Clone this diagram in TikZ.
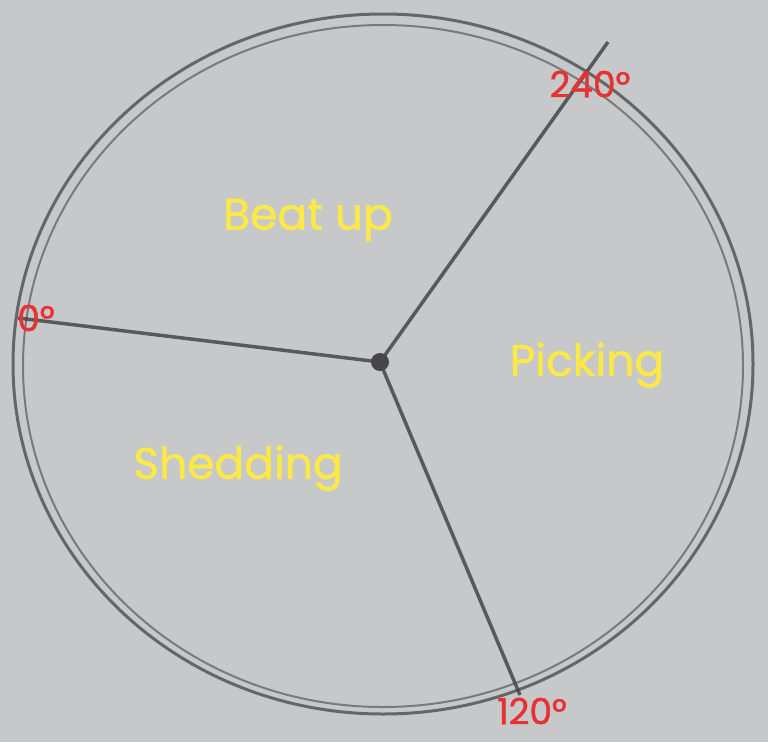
\documentclass[tikz,border=0pt]{standalone}
\usepackage{fontspec}
\setmainfont{Poppins}
\newfontfamily\labelfont[FakeBold=1.2]{Poppins}
\definecolor{paper}{RGB}{198,200,202}
\definecolor{pencil}{RGB}{70,70,72}
\definecolor{lblred}{RGB}{232,50,50}
\definecolor{lblyel}{RGB}{252,232,70}
\begin{document}
\begin{tikzpicture}[x=1pt,y=-1pt,
  stroke/.style={draw=pencil,line width=3.5pt,opacity=0.85},
  rim/.style={draw=pencil,line width=3pt,opacity=0.75},
  deg/.style={text=lblred,font=\labelfont\fontsize{36}{36}\selectfont,inner sep=0pt},
  phase/.style={text=lblyel,font=\labelfont\fontsize{44}{44}\selectfont,inner sep=0pt}]
\fill[paper] (0,0) rectangle (768,742);
\useasboundingbox (0,0) rectangle (768,742);
% rim (double pencil line)
\draw[rim] (383,364) ellipse [x radius=370, y radius=350];
\draw[rim,line width=2pt,opacity=0.6] (383,366) ellipse [x radius=360, y radius=341];
% hub and spokes
\coordinate (c) at (380,362);
\coordinate (p0) at (18,318);
\coordinate (p240) at (608,42);
\coordinate (p120) at (520,695);
\draw[stroke] (c) -- (p0);
\draw[stroke] (c) -- (p240);
\draw[stroke] (c) -- (p120);
\fill[pencil] (c) circle (9);
% labels
\node[deg] (l0) at (36,318) {0°};
\node[deg] (l240) at (590,84) {240°};
\node[deg] (l120) at (532,711) {120°};
\node[phase] (beat) at (308,220) {Beat up};
\node[phase] (pick) at (587,365) {Picking};
\node[phase] (shed) at (238,468) {Shedding};
\end{tikzpicture}
\end{document}
